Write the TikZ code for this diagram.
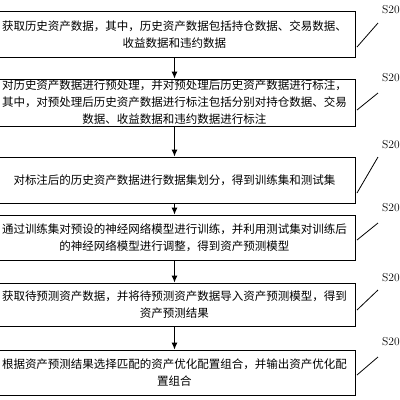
\documentclass[tikz,border=0pt]{standalone}
\usepackage{fontspec}
\newfontfamily\cjk{Noto Sans CJK SC}
\usetikzlibrary{positioning,arrows.meta}
\tikzset{procbox/.style={draw,line width=0.9pt,minimum width=361pt,minimum height=46pt,inner sep=0pt,align=center,font=\cjk\fontsize{11.5pt}{17pt}\selectfont}}
\tikzset{steplab/.style={anchor=west,inner sep=0pt,font=\fontsize{11.5pt}{12pt}\selectfont}}
\tikzset{>={Latex[length=7pt,width=6pt]}}

\begin{document}
\begin{tikzpicture}[x=1pt,y=-1pt]
	\useasboundingbox (0,0) rectangle (400,400);

		\node[procbox] (s1) at (174.5,34.5) {获取历史资产数据，其中，历史资产数据包括持仓数据、交易数据、\\收益数据和违约数据};
		\node[procbox,minimum height=47pt] (s2) at (174.5,102.5) {对历史资产数据进行预处理，并对预处理后历史资产数据进行标注，\\其中，对预处理后历史资产数据进行标注包括分别对持仓数据、交易\\数据、收益数据和违约数据进行标注};
		\node[procbox] (s3) at (174.5,180) {对标注后的历史资产数据进行数据集划分，得到训练集和测试集};
		\node[procbox,minimum height=45pt] (s4) at (174.5,237.5) {通过训练集对预设的神经网络模型进行训练，并利用测试集对训练后\\的神经网络模型进行调整，得到资产预测模型};
		\node[procbox,minimum height=43pt] (s5) at (174.5,304.5) {获取待预测资产数据，并将待预测资产数据导入资产预测模型，得到\\资产预测结果};
		\node[procbox,minimum height=45pt] (s6) at (174.5,372.5) {根据资产预测结果选择匹配的资产优化配置组合，并输出资产优化配\\置组合};

		\draw[->,line width=0.9pt] (s1) -- (s2);
		\draw[->,line width=0.9pt] (s2) -- (s3);
		\draw[->,line width=0.9pt] (s3) -- (s4);
		\draw[->,line width=0.9pt] (s4) -- (s5);
		\draw[->,line width=0.9pt] (s5) -- (s6);

		% step labels
		\node[steplab] (l1) at (382,10) {S20};
		\node[steplab] (l2) at (382,78) {S20};
		\node[steplab] (l3) at (382,145) {S20};
		\node[steplab] (l4) at (382,208) {S20};
		\node[steplab] (l5) at (382,278) {S20};
		\node[steplab] (l6) at (382,342) {S20};

		\coordinate (a1) at (357,47);  \coordinate (b1) at (378,23);
		\coordinate (a2) at (357,110); \coordinate (b2) at (378,93);
		\coordinate (a3) at (357,193); \coordinate (b3) at (378,157);
		\coordinate (a4) at (357,240); \coordinate (b4) at (378,223);
		\coordinate (a5) at (357,310); \coordinate (b5) at (378,290);
		\coordinate (a6) at (357,375); \coordinate (b6) at (378,357);
		\foreach \i in {1,...,6}
			\draw[line width=0.8pt] (a\i) -- (b\i);
\end{tikzpicture}
\end{document}
